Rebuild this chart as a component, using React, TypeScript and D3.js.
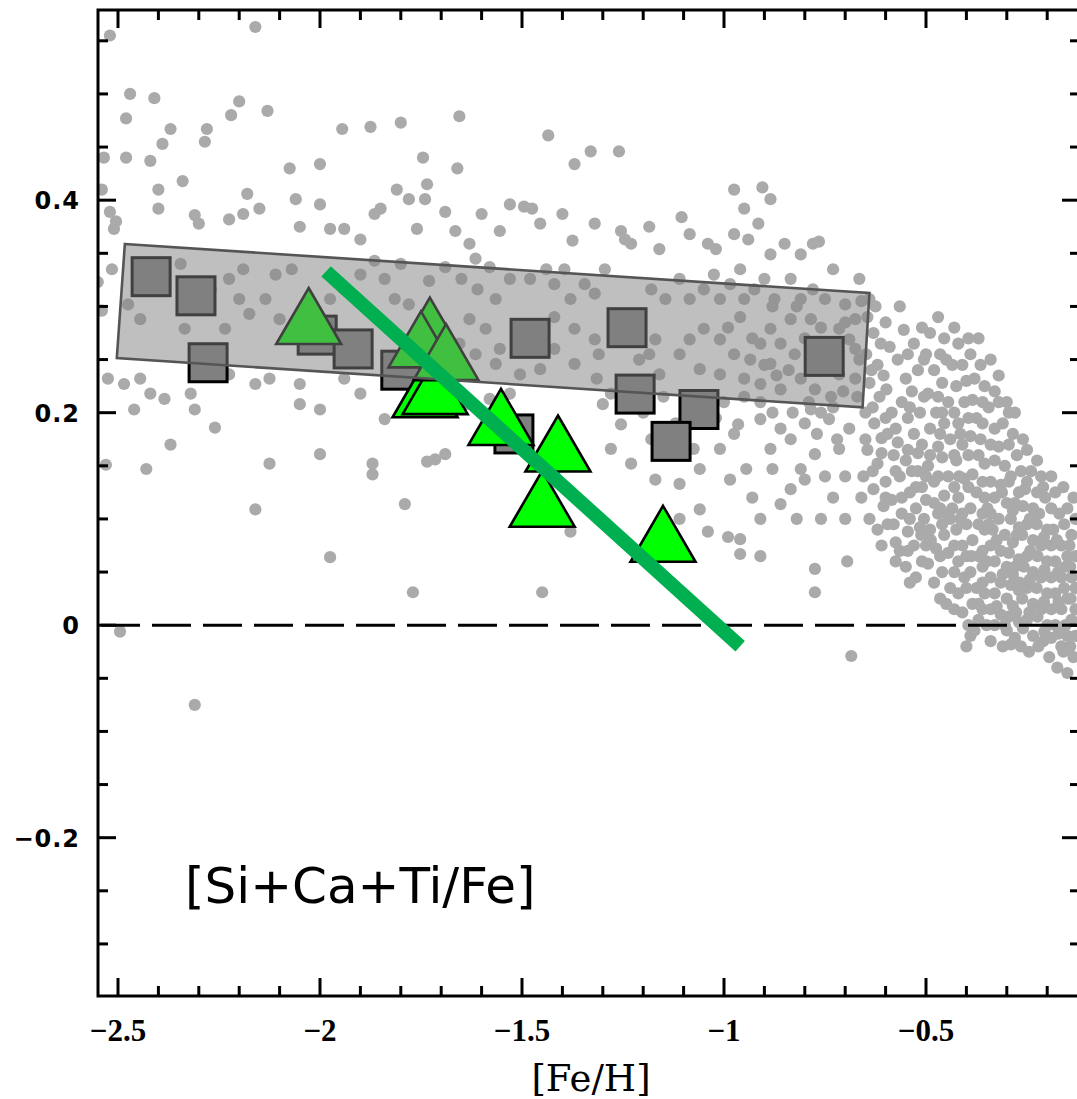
import React from "react";
import * as d3 from "d3";

// ---------- data ----------
const xTicksMajor = [-2.5, -2, -1.5, -1, -0.5];
const xTickLabels = ["\u22122.5", "\u22122", "\u22121.5", "\u22121", "\u22120.5"];
const yTicksMajor = [-0.2, 0, 0.2, 0.4];
const yTickLabels = ["\u22120.2", "0", "0.2", "0.4"];

// field stars [Fe/H], [alpha/Fe]
const fieldStars: [number, number][] = [
  [-2.52,0.555],[-2.16,0.563],[-2.47,0.50],[-2.41,0.496],[-2.48,0.477],[-2.37,0.467],[-2.535,0.44],[-2.48,0.44],[-2.42,0.437],[-2.39,0.453],[-2.285,0.455],[-2.28,0.467],[-2.2,0.493],[-2.22,0.48],[-2.13,0.484],[-2.0,0.434],[-1.945,0.467],[-1.875,0.469],[-1.8,0.473],[-1.655,0.479],[-1.435,0.461],[-1.33,0.446],[-1.26,0.446],[-1.37,0.434],
  [-2.54,0.41],[-2.52,0.389],[-2.505,0.38],[-2.51,0.373],[-2.55,0.323],[-2.54,0.296],[-2.40,0.392],[-2.4,0.41],[-2.34,0.418],[-2.31,0.386],[-2.3,0.378],[-2.225,0.382],[-2.19,0.387],[-2.18,0.406],[-2.15,0.392],[-2.075,0.43],[-2.06,0.401],[-2.05,0.375],[-2.0,0.396],[-1.975,0.373],[-1.94,0.373],[-1.9,0.363],[-1.865,0.387],[-1.85,0.392],[-1.81,0.41],[-1.78,0.401],[-1.76,0.373],[-1.74,0.401],[-1.735,0.415],[-1.69,0.389],[-1.665,0.371],[-1.63,0.359],[-1.6,0.387],[-1.555,0.371],[-1.53,0.396],[-1.495,0.394],[-1.475,0.392],[-1.455,0.378],[-1.4,0.387],[-1.375,0.362],[-1.32,0.378],[-1.255,0.371],[-1.245,0.363],[-1.23,0.359],[-1.185,0.375],[-1.16,0.354],[-1.105,0.384],[-1.085,0.368],[-1.04,0.359],[-1.02,0.354],[-0.975,0.41],[-0.905,0.412],[-0.885,0.401],[-0.95,0.392],[-0.915,0.378],[-0.94,0.363],[-0.975,0.368],[-0.885,0.349],[-0.85,0.359],[-0.81,0.349],[-0.78,0.359],[-0.765,0.361],[-0.73,0.335],[-0.665,0.326],[-0.64,0.307],[-1.745,0.44],[-1.66,0.43],
  [-2.515,0.335],[-2.445,0.288],[-2.475,0.302],[-2.345,0.34],[-2.27,0.316],[-2.225,0.326],[-2.19,0.335],[-2.11,0.33],[-2.07,0.335],[-2.2,0.307],[-2.135,0.307],[-2.335,0.279],[-2.235,0.279],[-2.175,0.293],[-2.1,0.288],[-2.05,0.288],[-1.975,0.307],[-1.94,0.316],[-1.9,0.33],[-1.865,0.343],[-1.84,0.326],[-1.8,0.34],[-1.815,0.307],[-1.78,0.302],[-1.73,0.324],[-1.69,0.337],[-1.65,0.326],[-1.615,0.345],[-1.58,0.337],[-1.61,0.316],[-1.565,0.307],[-1.53,0.326],[-1.48,0.326],[-1.44,0.335],[-1.42,0.321],[-1.38,0.307],[-1.395,0.335],[-1.345,0.321],[-1.32,0.312],[-1.295,0.335],[-1.42,0.29],[-1.37,0.279],[-1.32,0.269],[-1.31,0.255],[-1.37,0.246],[-1.42,0.26],[-1.555,0.26],[-1.59,0.279],[-1.63,0.288],[-1.615,0.255],[-1.655,0.265],[-1.565,0.246],[-1.505,0.236],[-1.455,0.241],[-1.18,0.316],[-1.145,0.307],[-1.11,0.326],[-1.085,0.307],[-1.05,0.316],[-1.025,0.33],[-1.01,0.307],[-0.985,0.321],[-0.96,0.335],[-0.95,0.307],[-0.925,0.316],[-0.9,0.326],[-0.875,0.307],[-0.835,0.326],[-0.81,0.307],[-0.78,0.316],[-0.75,0.307],[-0.7,0.302],[-0.675,0.288],[-0.785,0.288],[-0.835,0.288],[-0.885,0.279],[-0.91,0.265],[-0.86,0.265],[-0.825,0.255],[-0.885,0.246],[-0.935,0.25],[-0.975,0.255],[-1.01,0.269],[-1.05,0.279],[-1.085,0.269],[-1.11,0.255],[-1.06,0.241],[-1.01,0.236],[-0.95,0.232],[-0.91,0.227],[-0.86,0.222],[-0.81,0.232],[-0.775,0.222],[-0.715,0.236],[-0.675,0.232],[-0.675,0.26],[-0.69,0.269],[-0.715,0.279],[-1.16,0.236],[-1.185,0.255],[-1.17,0.269],[-1.21,0.25],
  [-0.8,0.27],[-0.77,0.25],[-0.74,0.265],[-0.72,0.25],[-0.705,0.22],[-0.735,0.215],[-0.76,0.2],[-0.79,0.21],[-0.84,0.24],[-0.87,0.235],[-0.9,0.245],[-0.93,0.27],[-0.96,0.29],[-0.99,0.28],[-0.88,0.3],[-0.82,0.3],[-0.76,0.28],[-0.7,0.285],[-0.665,0.25],[-0.67,0.215],
  [-2.525,0.232],[-2.485,0.227],[-2.445,0.232],[-2.42,0.218],[-2.46,0.203],[-2.385,0.213],[-2.32,0.218],[-2.31,0.203],[-2.26,0.186],[-2.37,0.17],[-2.53,0.151],[-2.43,0.147],[-2.125,0.152],[-2.225,0.236],[-2.16,0.227],[-2.125,0.232],[-2.05,0.227],[-2.05,0.208],[-2.0,0.203],[-2.0,0.161],[-1.975,0.064],[-2.16,0.109],[-1.87,0.152],[-1.87,0.142],[-1.84,0.194],[-1.94,0.232],[-1.9,0.218],[-1.79,0.114],[-1.77,0.031],[-1.735,0.154],[-1.715,0.156],[-1.69,0.161],[-1.64,0.208],[-1.58,0.213],[-1.53,0.218],[-1.445,0.161],[-1.42,0.142],[-1.38,0.088],[-1.45,0.031],[-1.315,0.232],[-1.28,0.218],[-1.3,0.208],[-1.255,0.189],[-1.28,0.166],[-1.23,0.152],[-1.17,0.137],[-1.11,0.133],[-1.06,0.147],[-1.075,0.166],[-1.01,0.166],[-0.975,0.18],[-0.965,0.189],[-0.91,0.194],[-0.86,0.185],[-0.835,0.175],[-0.885,0.166],[-0.945,0.147],[-0.985,0.137],[-1.06,0.109],[-1.11,0.1],[-1.04,0.088],[-0.96,0.081],[-0.96,0.067],[-0.91,0.1],[-0.86,0.114],[-0.835,0.128],[-0.81,0.147],[-0.775,0.161],[-0.785,0.203],[-0.74,0.194],[-0.69,0.185],[-0.715,0.166],[-0.65,0.175],[-0.775,0.053],[-0.775,0.031],[-0.685,-0.029],[-2.31,-0.075],[-2.495,-0.006],
  [-0.95,0.215],[-0.91,0.21],[-0.88,0.2],[-0.83,0.2],[-0.8,0.19],[-0.77,0.18],[-0.73,0.205],[-0.72,0.175],[-0.88,0.147],[-0.8,0.137],[-0.93,0.12],[-0.82,0.1],[-0.91,0.065],[-0.99,0.083],[-0.75,0.14],[-0.7,0.14],[-0.73,0.12],[-0.76,0.1],[-0.7,0.1],[-0.66,0.12],[-0.695,0.06],
  [-1.2,0.2],[-1.15,0.215],[-1.12,0.19],[-1.18,0.175],[-1.0,0.21],[-1.02,0.195],[-1.05,0.2],
  [-0.645,0.29],[-0.63,0.275],[-0.648,0.255],[-0.62,0.245],[-0.64,0.228],[-0.615,0.215],[-0.65,0.2],[-0.628,0.19],[-0.61,0.176],[-0.645,0.165],[-0.62,0.152],[-0.655,0.14],[-0.63,0.128],[-0.605,0.112],[-0.64,0.1],[-0.6,0.285],[-0.59,0.262],[-0.605,0.235],[-0.585,0.2],[-0.595,0.18],[-0.58,0.16],[-0.6,0.135],[-0.585,0.118],[-0.595,0.095],[-0.575,0.078],[-0.62,0.09],
  [-0.565,0.3],[-0.555,0.278],[-0.57,0.25],[-0.55,0.232],[-0.56,0.21],[-0.545,0.195],[-0.57,0.172],[-0.55,0.155],[-0.565,0.14],[-0.54,0.125],[-0.56,0.105],[-0.545,0.088],[-0.565,0.07],[-0.55,0.055],[-0.53,0.265],[-0.52,0.24],[-0.535,0.22],[-0.515,0.2],[-0.53,0.18],[-0.52,0.162],[-0.535,0.145],[-0.51,0.13],[-0.525,0.11],[-0.515,0.092],[-0.53,0.075],[-0.51,0.06],[-0.525,0.045],
  [-0.49,0.275],[-0.5,0.255],[-0.48,0.24],[-0.495,0.218],[-0.475,0.2],[-0.49,0.185],[-0.47,0.168],[-0.495,0.15],[-0.48,0.135],[-0.5,0.118],[-0.47,0.105],[-0.49,0.09],[-0.475,0.072],[-0.495,0.058],[-0.48,0.04],[-0.465,0.025],[-0.455,0.27],[-0.45,0.25],[-0.46,0.228],[-0.445,0.21],[-0.455,0.19],[-0.44,0.175],[-0.46,0.158],[-0.445,0.14],[-0.455,0.122],[-0.44,0.1],[-0.455,0.085],[-0.445,0.068],[-0.46,0.05],[-0.44,0.035],
  [-0.42,0.265],[-0.41,0.245],[-0.425,0.225],[-0.405,0.21],[-0.42,0.19],[-0.41,0.17],[-0.425,0.155],[-0.405,0.138],[-0.42,0.12],[-0.41,0.105],[-0.425,0.09],[-0.41,0.075],[-0.42,0.06],[-0.405,0.045],[-0.42,0.03],[-0.41,0.012],[-0.395,0.0],[-0.39,0.255],[-0.38,0.232],[-0.385,0.212],[-0.375,0.195],[-0.39,0.178],[-0.37,0.16],[-0.385,0.142],[-0.375,0.125],[-0.39,0.11],[-0.37,0.095],[-0.385,0.08],[-0.37,0.065],[-0.39,0.05],[-0.375,0.035],[-0.385,0.02],[-0.37,0.005],[-0.39,-0.01],
  [-0.355,0.225],[-0.345,0.205],[-0.36,0.19],[-0.34,0.17],[-0.355,0.152],[-0.34,0.135],[-0.355,0.12],[-0.34,0.105],[-0.355,0.09],[-0.34,0.075],[-0.35,0.06],[-0.34,0.045],[-0.355,0.03],[-0.34,0.015],[-0.35,0.0],[-0.34,-0.015],[-0.32,0.21],[-0.31,0.19],[-0.32,0.168],[-0.305,0.15],[-0.315,0.132],[-0.3,0.115],[-0.32,0.1],[-0.305,0.085],[-0.315,0.07],[-0.3,0.055],[-0.315,0.04],[-0.3,0.025],[-0.315,0.01],[-0.3,-0.005],[-0.31,-0.02],
  [-0.285,0.18],[-0.275,0.16],[-0.29,0.14],[-0.27,0.125],[-0.285,0.108],[-0.27,0.092],[-0.285,0.078],[-0.27,0.062],[-0.285,0.048],[-0.27,0.033],[-0.285,0.018],[-0.27,0.003],[-0.28,-0.012],[-0.25,0.165],[-0.24,0.145],[-0.255,0.128],[-0.235,0.11],[-0.25,0.095],[-0.235,0.08],[-0.25,0.065],[-0.235,0.05],[-0.25,0.035],[-0.235,0.02],[-0.25,0.005],[-0.235,-0.01],[-0.245,-0.025],
  [-0.215,0.14],[-0.205,0.12],[-0.22,0.105],[-0.2,0.09],[-0.215,0.075],[-0.2,0.06],[-0.215,0.045],[-0.2,0.03],[-0.215,0.015],[-0.2,0.0],[-0.21,-0.015],[-0.18,0.125],[-0.17,0.105],[-0.185,0.09],[-0.165,0.075],[-0.18,0.06],[-0.165,0.045],[-0.18,0.03],[-0.165,0.015],[-0.18,0.0],[-0.165,-0.02],[-0.175,-0.04],[-0.15,0.11],[-0.14,0.085],[-0.15,0.065],[-0.14,0.045],[-0.15,0.025],[-0.14,0.005],[-0.15,-0.01],
  [-0.66,0.305],[-0.625,0.3],[-0.612,0.265],[-0.635,0.24],[-0.598,0.222],[-0.632,0.205],[-0.6,0.195],[-0.575,0.185],[-0.61,0.162],[-0.575,0.145],[-0.632,0.145],[-0.6,0.12],[-0.56,0.12],[-0.61,0.075],[-0.58,0.095],[-0.54,0.1],[-0.545,0.07],[-0.54,0.04],[-0.575,0.06],[-0.51,0.28],[-0.545,0.255],[-0.505,0.25],[-0.54,0.205],[-0.505,0.215],[-0.51,0.17],[-0.545,0.165],[-0.5,0.14],[-0.52,0.145],[-0.505,0.1],[-0.5,0.075],
  [-0.47,0.29],[-0.465,0.255],[-0.43,0.28],[-0.435,0.245],[-0.47,0.215],[-0.43,0.2],[-0.465,0.18],[-0.43,0.16],[-0.47,0.14],[-0.43,0.13],[-0.48,0.115],[-0.435,0.11],[-0.46,0.095],[-0.43,0.075],[-0.465,0.065],[-0.43,0.05],[-0.45,0.02],[-0.43,0.015],[-0.395,0.27],[-0.4,0.23],[-0.395,0.195],[-0.395,0.16],[-0.395,0.13],[-0.4,0.095],[-0.4,0.065],[-0.4,0.035],[-0.365,0.245],[-0.36,0.21],[-0.365,0.175],[-0.36,0.135],[-0.36,0.105],[-0.36,0.07],[-0.36,0.04],[-0.36,0.015],[-0.38,-0.005],[-0.4,-0.02],
  [-0.33,0.22],[-0.33,0.185],[-0.33,0.155],[-0.33,0.12],[-0.335,0.09],[-0.33,0.06],[-0.33,0.03],[-0.33,0.0],[-0.295,0.2],[-0.295,0.17],[-0.295,0.135],[-0.29,0.1],[-0.295,0.068],[-0.29,0.038],[-0.295,0.008],[-0.29,-0.018],[-0.26,0.175],[-0.265,0.145],[-0.26,0.112],[-0.262,0.085],[-0.258,0.055],[-0.262,0.025],[-0.26,-0.003],[-0.265,-0.02],[-0.225,0.155],[-0.225,0.125],[-0.226,0.095],[-0.224,0.065],[-0.226,0.035],[-0.224,0.008],[-0.222,-0.02],[-0.19,0.14],[-0.19,0.11],[-0.19,0.075],[-0.19,0.045],[-0.19,0.015],[-0.19,-0.012],[-0.195,-0.03],[-0.16,0.13],[-0.158,0.095],[-0.155,0.055],[-0.158,0.035],[-0.155,0.0],[-0.16,-0.025],[-0.135,0.12],[-0.13,0.1],[-0.13,0.065],[-0.13,0.035],[-0.13,0.015],[-0.13,-0.01],[-0.135,-0.03],[-0.15,-0.045],
  [-0.37,0.27],[-0.34,0.25],[-0.32,0.235],[-0.3,0.21],[-0.28,0.2],
  [-0.345,0.095],[-0.325,0.08],[-0.31,0.048],[-0.325,0.018],[-0.305,0.0],[-0.275,0.085],[-0.28,0.055],[-0.268,0.04],[-0.277,0.012],[-0.243,0.1],[-0.242,0.07],[-0.243,0.043],[-0.244,0.012],[-0.208,0.083],[-0.207,0.052],[-0.208,0.022],[-0.207,-0.006],[-0.176,0.08],[-0.173,0.05],[-0.172,0.022],[-0.172,-0.008],[-0.145,0.075],[-0.143,0.055],[-0.142,0.025],[-0.143,-0.02],[-0.36,0.055],[-0.37,0.02],[-0.348,0.11],[-0.312,0.125],[-0.28,0.115],[-0.25,0.135],[-0.21,0.13],[-0.45,0.105],[-0.465,0.11],[-0.488,0.08],[-0.512,0.085],[-0.525,0.13],[-0.49,0.16],[-0.46,0.2],[-0.415,0.18],[-0.418,0.14],[-0.415,0.1],[-0.388,0.065],
];

// globular clusters (squares)
const gcFeH = [-2.418, -2.307, -2.277, -2.007, -1.918, -1.8, -1.48, -1.24, -1.22, -1.062, -1.131, -1.52, -0.752];
const gcAlpha = [0.328, 0.31, 0.247, 0.273, 0.26, 0.24, 0.27, 0.28, 0.2175, 0.203, 0.173, 0.18, 0.253];

// other objects (triangles)
const triFeH = [-1.552, -1.411, -1.45, -1.151, -2.028, -1.74, -1.715, -1.728, -1.75, -1.688];
const triAlpha = [0.196, 0.171, 0.119, 0.086, 0.291, 0.222, 0.225, 0.282, 0.269, 0.257];

// halo band polygon
const bandFeH = [-2.483, -0.64, -0.657, -2.503];
const bandAlpha = [0.3588, 0.3126, 0.205, 0.2514];

// trend line
const fitFeH = [-1.985, -0.96];
const fitAlpha = [0.333, -0.0198];

// ---------- layout ----------
const W = 1077, H = 1099;
const L = 98, R = 1080, T = 10, B = 996;
const x = d3.scaleLinear().domain([-2.5 - 20 / 404, -2.5 + (R - 118) / 404]).range([L, R]);
const y = d3.scaleLinear().domain([-0.349, 0.579]).range([B, T]);

const xMinor = d3.range(-2.5, -0.15, 0.1).map((v) => +v.toFixed(2));
const yMinor = d3.range(-0.3, 0.58, 0.05).map((v) => +v.toFixed(2));

const SQ = 38;
const TW = 65, TH = 56;

function triPath(cx: number, cy: number) {
  const p = d3.path();
  p.moveTo(cx, cy - TH / 2);
  p.lineTo(cx + TW / 2, cy + TH / 2);
  p.lineTo(cx - TW / 2, cy + TH / 2);
  p.closePath();
  return p.toString();
}

export default function App() {
  const bandLine = d3.line<number>().x((_, i) => x(bandFeH[i])).y((_, i) => y(bandAlpha[i]));
  const bandD = bandLine(bandFeH) + "Z";
  const fitLine = d3.line<number>().x((_, i) => x(fitFeH[i])).y((_, i) => y(fitAlpha[i]));
  const majT = 18, minT = 10;
  return (
    <svg
      width={W}
      height={H}
      style={{ position: "fixed", left: 0, top: 0, background: "#fff" }}
    >
      <defs>
        <clipPath id="plotClip">
          <rect x={L} y={T} width={R - L} height={B - T} />
        </clipPath>
      </defs>
      <rect x={0} y={0} width={W} height={H} fill="#fff" />
      {/* field stars */}
      <g fill="#aaaaaa" clipPath="url(#plotClip)">
        {fieldStars.map((d, i) => (
          <circle key={i} cx={x(d[0])} cy={y(d[1])} r={6.1} />
        ))}
      </g>
      {/* zero line */}
      <line
        x1={L}
        x2={R}
        y1={y(0)}
        y2={y(0)}
        stroke="#000"
        strokeWidth={3}
        strokeDasharray="39 12"
        strokeDashoffset={-3}
      />
      {/* squares */}
      <g fill="#808080" stroke="#000" strokeWidth={3}>
        {gcFeH.map((v, i) => (
          <rect key={i} x={x(v) - SQ / 2} y={y(gcAlpha[i]) - SQ / 2} width={SQ} height={SQ} />
        ))}
      </g>
      {/* triangles */}
      <g fill="#00ff00" stroke="#000" strokeWidth={2.6} strokeLinejoin="miter">
        {triFeH.map((v, i) => (
          <path key={i} d={triPath(x(v), y(triAlpha[i]))} />
        ))}
      </g>
      {/* band */}
      <path d={bandD} fill="rgba(128,128,128,0.5)" stroke="#555" strokeWidth={2.6} />
      {/* trend line */}
      <path d={fitLine(fitFeH) || ""} stroke="#00b050" strokeWidth={14} fill="none" />

      {/* axes frame */}
      <rect x={L} y={T} width={R - L} height={B - T} fill="none" stroke="#000" strokeWidth={3} />
      <g stroke="#000" strokeWidth={3}>
        {xMinor.map((v, i) => {
          const major = xTicksMajor.some((m) => Math.abs(m - v) < 1e-6);
          const len = major ? majT : minT;
          return (
            <g key={i}>
              <line x1={x(v)} x2={x(v)} y1={B} y2={B - len} />
              <line x1={x(v)} x2={x(v)} y1={T} y2={T + len} />
            </g>
          );
        })}
        {yMinor.map((v, i) => {
          const major = yTicksMajor.some((m) => Math.abs(m - v) < 1e-6);
          const len = major ? majT : minT;
          return (
            <g key={i}>
              <line x1={L} x2={L + len} y1={y(v)} y2={y(v)} />
              <line x1={R} x2={R - len} y1={y(v)} y2={y(v)} />
            </g>
          );
        })}
      </g>
      {/* tick labels */}
      <g fontFamily="'Liberation Serif', 'DejaVu Serif', serif" fontWeight="bold" fontSize={31} textAnchor="middle">
        {xTicksMajor.map((v, i) => (
          <text key={i} x={x(v)} y={1041}>
            {xTickLabels[i]}
          </text>
        ))}
      </g>
      <g fontFamily="'DejaVu Sans', sans-serif" fontWeight="bold" fontSize={24} letterSpacing={1} textAnchor="end">
        {yTicksMajor.map((v, i) => (
          <text key={i} x={80} y={y(v) + 9}>
            {yTickLabels[i]}
          </text>
        ))}
      </g>
      <text x={591} y={1091} textAnchor="middle" fontFamily="'DejaVu Serif', serif" fontSize={37}>
        [Fe/H]
      </text>
      <text x={185} y={903} fontFamily="'DejaVu Sans', sans-serif" fontSize={50}>
        [Si+Ca+Ti/Fe]
      </text>
    </svg>
  );
}
